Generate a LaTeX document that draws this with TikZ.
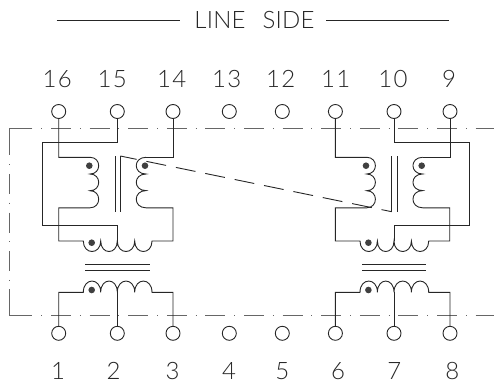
\documentclass[tikz,border=0pt]{standalone}
\usepackage{fontspec}
\setmainfont{Lato Light}
\newcommand{\xfrmunit}[7]{%
\begin{scope}[xshift=#1pt]
 % upper left winding
 \draw[wire] (#2) |- (90,157.3)
   .. controls +(11.6,0) and +(11.6,0) .. ++(0,16.7)
   .. controls +(11.6,0) and +(11.6,0) .. ++(0,16.7)
   .. controls +(11.6,0) and +(11.6,0) .. ++(0,17.1)
   -- (58.7,207.8) -- (58.7,241) -- (83.3,241)
   .. controls +(0,14) and +(0,14) .. ++(17.4,0)
   .. controls +(0,14) and +(0,14) .. ++(16.6,0)
   .. controls +(0,14) and +(0,14) .. ++(17.4,0)
   .. controls +(0,14) and +(0,14) .. ++(17.3,0)
   -- (173,241) -- (173,207.8) -- (146,207.8)
   .. controls +(-13,0) and +(-13,0) .. ++(0,-17.2)
   .. controls +(-13,0) and +(-13,0) .. ++(0,-16.6)
   .. controls +(-13,0) and +(-13,0) .. ++(0,-16.7);
 \draw[wire] (146,157.3) -| (#4);
 % centre tap
 \draw[wire] (#3) |- (#7,142) -- (#7,225.7) -- (117.3,225.7) -- (117.3,241);
 % cores
 \draw[wire] (115,156) -- (115,211.7);
 \draw[wire] (120.3,156) -- (120.3,211.7);
 \draw[wire] (85.3,264.3) -- (149.7,264.3);
 \draw[wire] (85.3,270) -- (149.7,270);
 % lower winding
 \draw[wire] (#5) |- (83.3,292.3)
   .. controls +(0,-15) and +(0,-15) .. ++(17.4,0)
   .. controls +(0,-15) and +(0,-15) .. ++(16.6,0)
   .. controls +(0,-15) and +(0,-15) .. ++(17.4,0)
   .. controls +(0,-15) and +(0,-15) .. ++(17.3,0)
   -| (#6);
 \draw[wire] (117.3,292.3) -- (117.3,326);
 \node[dotmark] at (89.3,165.7) {};
 \node[dotmark] at (145,165.7) {};
 \node[dotmark] at (91.7,242.7) {};
 \node[dotmark] at (91.7,290) {};
\end{scope}}
\begin{document}
\begin{tikzpicture}[x=1pt,y=-1pt,
  wire/.style={line width=0.9pt,black!85},
  cad/.style={font=\fontsize{24}{24}\selectfont,inner sep=0pt,text=black!85,text height=17pt,text depth=0pt},
  pin/.style={circle,draw=black!85,line width=0.9pt,minimum size=14pt,inner sep=0pt},
  frame/.style={line width=0.8pt,black!60},
  chain/.style={frame,dash pattern=on 20pt off 8.8pt on 1pt off 8.8pt,dash phase=20pt},
  dotmark/.style={circle,fill=black!75,draw=none,minimum size=6.6pt,inner sep=0pt}]
\useasboundingbox (0,0) rectangle (494,383);
% frame
\draw[frame] (32.4,128.3) -- (9.5,128.3) -- (9.5,155.3);
\draw[chain] (32.4,128.3) -- (494,128.3);
\draw[chain] (9.5,155.3) -- (9.5,289.3);
\draw[frame] (9.5,289.3) -- (9.5,315.3) -- (32.4,315.3);
\draw[chain] (32.4,315.3) -- (494,315.3);
% title
\node[cad] (title) at (254.5,20.3) {\addfontfeature{LetterSpace=1}LINE\hspace{17pt}SIDE};
\coordinate (tl) at (56.7,20.3);
\coordinate (tr) at (449,20.3);
\draw[wire,shorten >=14pt] (tl) -- (title.west);
\draw[wire,shorten >=11pt] (tr) -- (title.east);
% pins
\foreach \n/\x in {p16/58.7,p15/117.3,p14/173,p13/229.3,p12/282.3,p11/335.4,p10/394,p9/450}
  \node[pin] (\n) at (\x,111.5) {};
\foreach \n/\x in {p1/58.7,p2/117.3,p3/173,p4/229.3,p5/282.3,p6/335.4,p7/394,p8/450}
  \node[pin] (\n) at (\x,333.3) {};
% pin labels
\foreach \t/\x in {16/57.3,15/112.3,14/171.7,13/226.7,12/280.7,11/335.7,10/393,9/449}
  \node[cad] (t\t) at (\x,79) {\addfontfeature{LetterSpace=6}\t};
\foreach \t/\x in {1/58,2/113.7,3/172.7,4/229,5/282.3,6/338,7/394.3,8/452.3}
  \node[cad] (t\t) at (\x,370.7) {\t};
% transformers
\xfrmunit{0}{p16}{p15}{p14}{p1}{p3}{42.3}
\xfrmunit{276.7}{p11}{p10}{p9}{p6}{p8}{192.6}
% shield link
\coordinate (sa) at (120.3,156);
\coordinate (sb) at (391.7,211.7);
\draw[wire,dash pattern=on 20pt off 10pt,dash phase=3.3pt] (sa) -- (sb);
\end{tikzpicture}
\end{document}
